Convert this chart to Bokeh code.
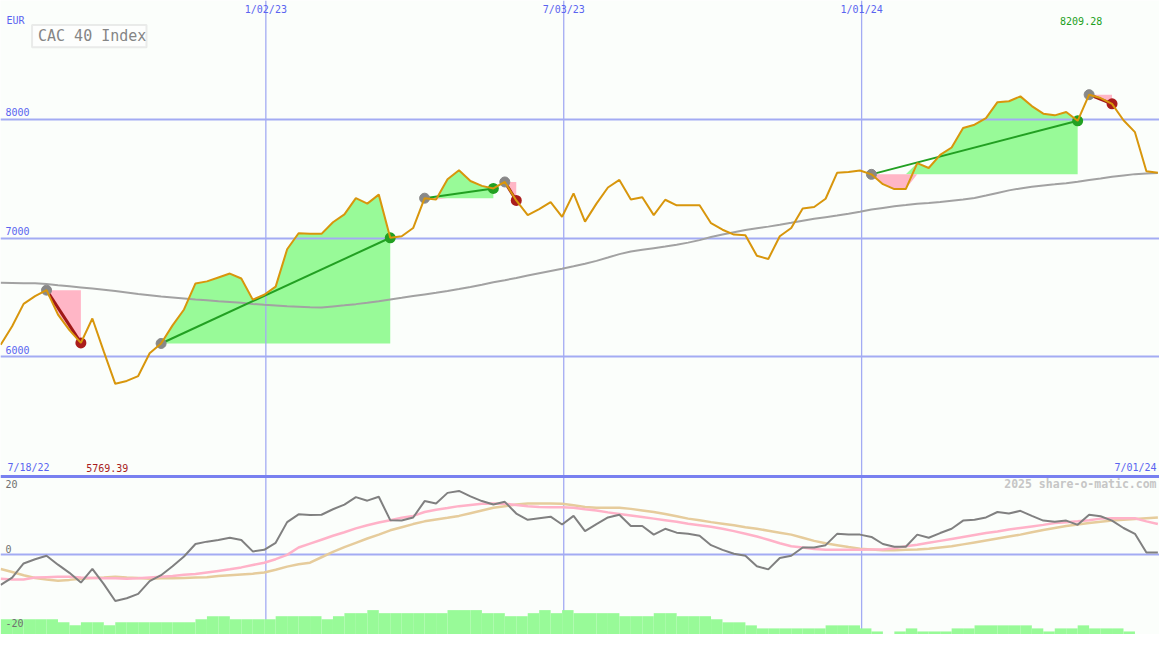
import pandas as pd
from bokeh.plotting import figure
from bokeh.models import Range1d, Label, BoxAnnotation
from bokeh.embed import file_html
from bokeh.resources import INLINE

# ---------------- data ----------------
start_date = "2022-07-24"          # weekly points (Sundays)
range_start = "2022-07-23 21:00"
range_end = "2024-07-01"

price = [6099, 6255, 6444, 6510, 6560, 6354, 6222, 6115, 6321, 6041,
         5769.39, 5794, 5835, 6027, 6110, 6263, 6397, 6617, 6634, 6667,
         6700, 6658, 6480, 6521, 6590, 6905, 7040, 7035, 7035, 7133,
         7199, 7336, 7290, 7366, 7002, 7015, 7084, 7336, 7325, 7495,
         7572, 7481, 7440, 7418, 7473, 7317, 7193, 7243, 7303, 7179,
         7377, 7138, 7290, 7426, 7490, 7325, 7344, 7193, 7323, 7276,
         7276, 7276, 7125, 7070, 7029, 7023, 6850, 6823, 7015, 7084,
         7249, 7262, 7331, 7550, 7556, 7570, 7537, 7454, 7413, 7413,
         7632, 7591, 7701, 7764, 7928, 7956, 8011, 8146, 8154, 8195,
         8113, 8049, 8035, 8063, 7989, 8209.28, 8181, 8132, 7994, 7893,
         7564, 7550]

moving_avg = [6623, 6621, 6619, 6618, 6612, 6602, 6593, 6583, 6573, 6563,
              6552, 6541, 6528, 6517, 6506, 6498, 6490, 6481, 6474, 6467,
              6461, 6453, 6444, 6436, 6431, 6424, 6420, 6415, 6413, 6423,
              6432, 6442, 6454, 6467, 6481, 6495, 6510, 6524, 6538, 6553,
              6569, 6587, 6606, 6626, 6644, 6663, 6683, 6702, 6721, 6740,
              6761, 6783, 6807, 6835, 6864, 6886, 6900, 6914, 6928, 6944,
              6961, 6982, 7009, 7029, 7048, 7067, 7082, 7096, 7111, 7128,
              7146, 7163, 7176, 7189, 7205, 7222, 7240, 7254, 7267, 7278,
              7290, 7296, 7303, 7314, 7325, 7337, 7358, 7380, 7402, 7418,
              7432, 7444, 7453, 7463, 7475, 7490, 7503, 7517, 7528, 7539,
              7545, 7549]

oscillator = [-7.8, -5.9, -2.3, -1.2, -0.3, -2.6, -4.7, -7.2, -3.7, -7.6,
              -11.9, -11.2, -10.1, -6.8, -5.3, -3.0, -0.5, 2.7, 3.3, 3.7,
              4.3, 3.7, 0.8, 1.2, 3.0, 8.3, 10.3, 10.1, 10.2, 11.6,
              12.8, 14.7, 13.8, 14.8, 8.8, 8.7, 9.5, 13.7, 13.1, 15.8,
              16.3, 14.9, 13.7, 12.8, 13.5, 10.5, 8.9, 9.3, 9.7, 7.7,
              9.9, 6.0, 7.8, 9.5, 10.2, 7.3, 7.3, 5.1, 6.6, 5.6,
              5.3, 4.8, 2.4, 1.2, 0.2, -0.3, -3.0, -3.8, -0.9, -0.3,
              1.8, 1.8, 2.4, 5.3, 5.1, 5.1, 4.5, 2.7, 2.0, 2.0,
              5.1, 4.3, 5.5, 6.6, 8.7, 8.9, 9.5, 10.9, 10.5, 11.2,
              9.9, 8.7, 8.4, 8.7, 7.6, 10.2, 9.8, 8.7, 6.8, 5.3,
              0.5, 0.5]

signal_fast = [-6.2, -6.4, -6.4, -5.9, -5.8, -5.7, -5.7, -5.9, -6.0, -6.1,
               -6.1, -6.2, -6.1, -5.9, -5.7, -5.5, -5.2, -5.0, -4.6, -4.2,
               -3.8, -3.3, -2.7, -2.1, -1.2, -0.1, 1.8, 2.8, 3.8, 4.8,
               5.7, 6.7, 7.5, 8.2, 8.8, 9.4, 9.9, 10.9, 11.5, 11.9,
               12.4, 12.7, 13.0, 13.1, 13.0, 12.7, 12.4, 12.2, 12.1, 12.1,
               12.0, 11.6, 11.3, 10.8, 10.4, 10.0, 9.6, 9.2, 8.8, 8.4,
               7.9, 7.5, 7.1, 6.6, 6.0, 5.3, 4.6, 3.8, 2.9, 2.1,
               1.8, 1.4, 1.2, 1.2, 1.2, 1.2, 1.3, 1.3, 1.6, 2.1,
               2.5, 3.0, 3.5, 4.0, 4.5, 5.0, 5.5, 5.9, 6.4, 6.8,
               7.2, 7.6, 8.1, 8.3, 8.5, 8.8, 9.2, 9.3, 9.3, 9.3,
               8.5, 7.8]

signal_slow = [-3.7, -4.5, -5.3, -6.0, -6.4, -6.7, -6.5, -6.2, -6.0, -5.9,
               -5.7, -5.9, -6.0, -6.2, -6.1, -6.1, -6.0, -5.9, -5.8, -5.5,
               -5.3, -5.1, -4.9, -4.6, -3.9, -3.1, -2.5, -2.1, -0.7, 0.7,
               1.9, 3.0, 4.1, 5.1, 6.2, 7.0, 7.8, 8.5, 9.0, 9.4,
               9.9, 10.6, 11.3, 12.0, 12.4, 12.8, 13.1, 13.1, 13.1, 13.0,
               12.6, 12.2, 12.0, 12.0, 12.0, 11.7, 11.3, 10.9, 10.4, 9.8,
               9.2, 8.8, 8.3, 7.9, 7.5, 7.0, 6.6, 6.1, 5.6, 5.1,
               4.3, 3.5, 2.9, 2.4, 1.9, 1.5, 1.3, 1.1, 1.1, 1.2,
               1.3, 1.5, 1.8, 2.1, 2.6, 3.1, 3.6, 4.1, 4.6, 5.1,
               5.7, 6.3, 6.8, 7.3, 7.7, 8.1, 8.4, 8.7, 8.9, 9.1,
               9.3, 9.5]

strength_level = [5, 5, 5, 5, 5, 4, 3, 4, 4, 3,
                  4, 4, 4, 4, 4, 4, 4, 5, 6, 6,
                  5, 5, 5, 5, 6, 6, 6, 6, 5, 6,
                  7, 7, 8, 7, 7, 7, 7, 7, 7, 8,
                  8, 8, 7, 7, 6, 6, 7, 8, 7, 8,
                  7, 7, 7, 7, 6, 6, 6, 7, 7, 6,
                  6, 6, 5, 4, 4, 3, 2, 2, 2, 2,
                  2, 2, 3, 3, 3, 2, 1, 0, 1, 2,
                  1, 1, 1, 2, 2, 3, 3, 3, 3, 3,
                  2, 1, 2, 2, 3, 2, 2, 2, 1, 0,
                  0]

trend_start = [4, 14, 37, 44, 76, 95]
trend_end = [7, 34, 43, 45, 94, 97]

price_ticks = [6000, 7000, 8000]
osc_ticks = [20, 0, -20]
date_ticks = ["2023-01-02", "2023-07-03", "2024-01-01"]
date_tick_labels = ["1/02/23", "7/03/23", "1/01/24"]
first_label = "7/18/22"
last_label = "7/01/24"
currency = "EUR"
title = "CAC 40 Index"
credit = "2025 share-o-matic.com"

# ---------------- helpers ----------------
def ms(d):
    return pd.Timestamp(d).value / 1e6

dates = [ms(d) for d in pd.date_range(start_date, periods=len(price), freq="7D")]
X0, X1 = ms(range_start), ms(range_end)
YB, YT = 3654.3, 9004.1            # main price range (bottom, top)


def fx(px):   # reference pixel x -> data x
    return X0 + (X1 - X0) * px / 1175.0


def fy(py):   # reference pixel y -> price data y
    return YT - (YT - YB) * py / 650.0


BG = "#fbfefb"
GRID = "#a3abf3"
BLUE_TXT = "#5a64f0"
FONT = "DejaVu Sans Mono"

W, H = 1159, 634
p = figure(width=W, height=H, x_range=Range1d(X0, X1), y_range=Range1d(YB, YT),
           output_backend="svg", toolbar_location=None, min_border=0,
           x_axis_location=None, y_axis_location=None,
           background_fill_color=BG, border_fill_color=BG, outline_line_color=None)
p.grid.visible = False
p.extra_y_ranges = {"osc": Range1d(-20.5, 142), "vol": Range1d(0, 208)}

# trend fills
for s, e in zip(trend_start, trend_end):
    xs = dates[s:e + 1]
    ps = price[s:e + 1]
    base = price[s]
    up = [max(v, base) for v in ps]
    dn = [min(v, base) for v in ps]
    p.varea(x=xs, y1=[base] * len(xs), y2=up, fill_color="#98fa98")
    p.varea(x=xs, y1=dn, y2=[base] * len(xs), fill_color="#ffb6c6")

# grid lines
vx = [ms(d) for d in date_ticks]
p.segment(x0=vx, x1=vx, y0=[YB] * len(vx), y1=[YT] * len(vx),
          line_color=GRID, line_width=1.3)
p.hspan(y=price_ticks, line_color=GRID, line_width=2)
p.hspan(y=[0], y_range_name="osc", line_color=GRID, line_width=2)
p.hspan(y=[20], y_range_name="osc", line_color="#7880f0", line_width=3)

# strength bars
p.quad(left=dates[:-1], right=dates[1:], bottom=0, top=strength_level,
       y_range_name="vol", fill_color="#98fa98", line_color=None)

# moving average
p.line(dates, moving_avg, line_color="#a2a2a2", line_width=2)

# oscillator panel lines
p.line(dates, signal_slow, y_range_name="osc", line_color="#e6cc9c", line_width=2.5)
p.line(dates, signal_fast, y_range_name="osc", line_color="#ffb2c8", line_width=2.5)
p.line(dates, oscillator, y_range_name="osc", line_color="#808080", line_width=2)

# trend lines and dots
sx = [dates[s] for s in trend_start]
ex = [dates[e] for e in trend_end]
sy = [price[s] for s in trend_start]
ey = [price[e] for e in trend_end]
is_up = [price[e] >= price[s] for s, e in zip(trend_start, trend_end)]
line_cols = ["#22a022" if u else "#a01818" for u in is_up]
line_w = [2 if u else 3 for u in is_up]
p.segment(x0=sx, y0=sy, x1=ex, y1=ey, line_color=line_cols, line_width=line_w)
p.scatter(sx, sy, size=10, fill_color="#888888", line_color="#888888")
p.scatter(ex, ey, size=11, fill_color=["#22a022" if u else "#aa1c1c" for u in is_up],
          line_color=None)

# price line
p.line(dates, price, line_color="#d8960c", line_width=2)

# ---------------- texts ----------------
SHIFT = {"10px": 4, "11.5px": 4, "15px": 5}


def lab(x, y, text, color, size="10px", align="left", y_offset=0, **kw):
    p.add_layout(Label(x=x, y=y, text=text, text_color=color, text_font=FONT,
                       text_font_size=size, text_align=align,
                       text_baseline="alphabetic",
                       y_offset=y_offset + SHIFT[size], **kw))


lab(fx(6), fy(25), currency, BLUE_TXT)
for t in price_ticks:
    lab(X0, t, f"{t}", BLUE_TXT, x_offset=5, y_offset=3)
for d, t in zip(date_ticks, date_tick_labels):
    lab(ms(d), fy(13), t, BLUE_TXT, align="center")
lab(fx(7), fy(483), first_label, BLUE_TXT)
lab(fx(1172), fy(483), last_label, BLUE_TXT, align="right")

imax = price.index(max(price))
imin = price.index(min(price))
lab(dates[imax], fy(25), f"{max(price):.2f}", "#22a022", align="center", x_offset=-8)
lab(dates[imin], fy(483), f"{min(price):.2f}", "#a81c1c", align="center", x_offset=-8)

osc_offsets = [-12, 2, 6]
for t, off in zip(osc_ticks, osc_offsets):
    lab(X0, t, f"{t}", "#707070", x_offset=5, y_offset=off, y_range_name="osc")

lab(fx(1172), fy(500), credit, "#c6c6c6", size="11.5px", align="right",
    text_font_style="bold")

p.add_layout(BoxAnnotation(left=fx(32), right=fx(148), top=fy(25), bottom=fy(48),
                           fill_color="#fdfefd", fill_alpha=1.0,
                           line_color="#c0c0c0", line_width=2))
lab(fx(38), fy(42), title, "#858585", size="15px")

open("out.html", "w").write(file_html(p, INLINE))
